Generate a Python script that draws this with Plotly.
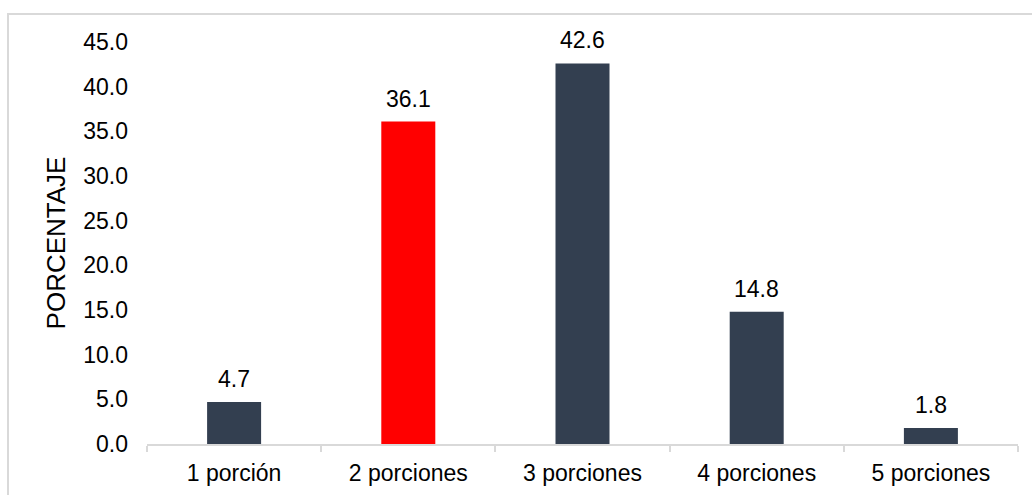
import plotly.graph_objects as go

categories = ["1 porción", "2 porciones", "3 porciones", "4 porciones", "5 porciones"]
values = [4.7, 36.1, 42.6, 14.8, 1.8]
bar_colors = ["#333F50", "#FF0000", "#333F50", "#333F50", "#333F50"]
y_ticks = [0, 5, 10, 15, 20, 25, 30, 35, 40, 45]

font_family = "Liberation Sans, Arial, sans-serif"
label_size = 23

fig = go.Figure(
    go.Bar(
        x=categories,
        y=values,
        marker=dict(color=bar_colors, line=dict(width=0)),
        width=0.31,
        hoverinfo="x+y",
    )
)

# value labels above each bar
for cat, v in zip(categories, values):
    fig.add_annotation(
        x=cat,
        y=v,
        text=f"{v:.1f}",
        showarrow=False,
        yanchor="middle",
        yshift=23,
        font=dict(size=label_size, color="#000000", family=font_family),
    )

fig.update_layout(
    width=1032,
    height=495,
    margin=dict(l=147, r=14, t=42, b=51, autoexpand=False),
    paper_bgcolor="white",
    plot_bgcolor="white",
    showlegend=False,
    font=dict(family=font_family, size=label_size, color="#000000"),
    xaxis=dict(
        automargin=False,
        showline=True,
        linecolor="#D9D9D9",
        linewidth=2,
        ticks="outside",
        tickson="boundaries",
        ticklen=6,
        tickcolor="#D9D9D9",
        tickwidth=2,
        showgrid=False,
        tickfont=dict(size=label_size),
        ticklabelstandoff=7,
    ),
    yaxis=dict(
        automargin=False,
        range=[0, 45],
        tickvals=y_ticks,
        ticktext=[f"{v:.1f}" for v in y_ticks],
        showgrid=False,
        showline=False,
        zeroline=False,
        ticks="",
        tickfont=dict(size=label_size),
        ticklabelstandoff=18,
        title=dict(text="PORCENTAJE", font=dict(size=26), standoff=10),
    ),
    shapes=[
        dict(
            type="rect",
            xref="paper",
            yref="paper",
            x0=-0.1596,
            x1=1.2,
            y0=-0.3,
            y1=1.0697,
            line=dict(color="#D9D9D9", width=2),
            fillcolor="rgba(0,0,0,0)",
            layer="below",
        )
    ],
)

fig.write_html("out.html")
